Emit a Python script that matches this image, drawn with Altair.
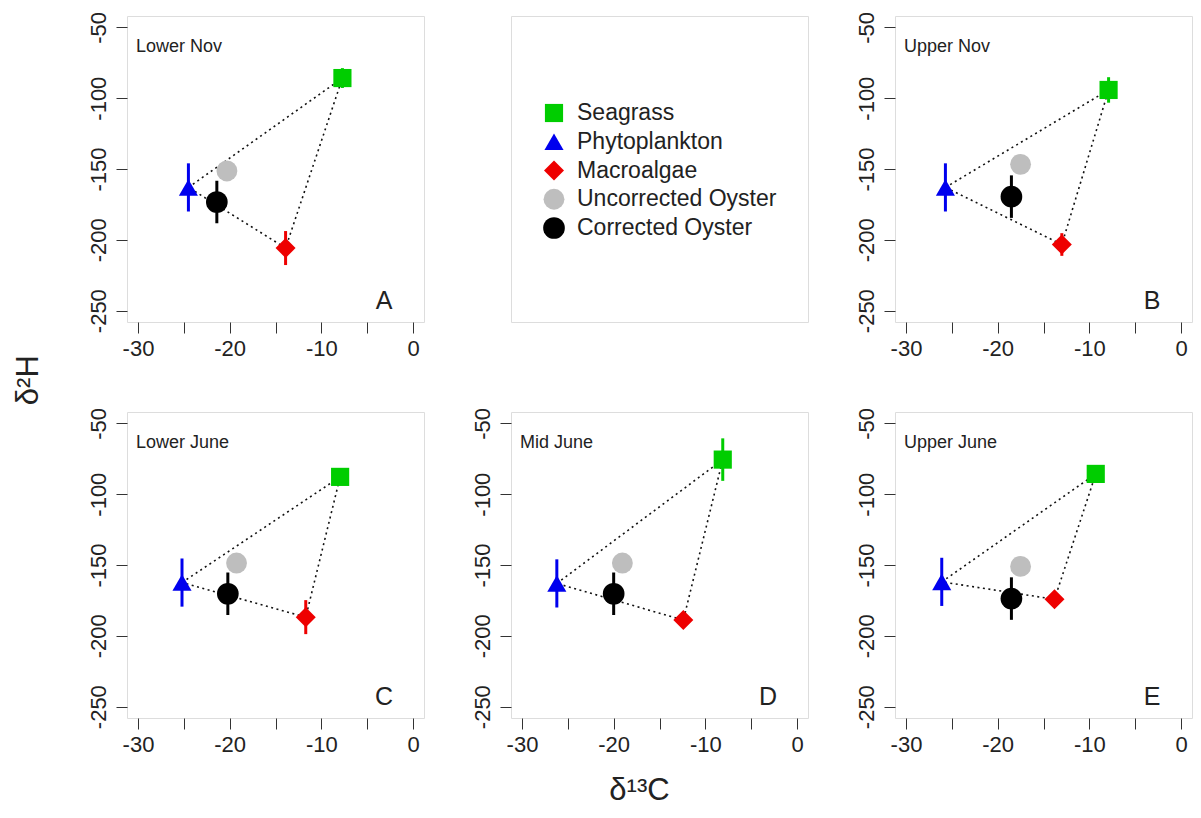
import altair as alt
import pandas as pd

# ---------------- data ----------------
panel_names = ["Lower Nov", "Upper Nov", "Lower June", "Mid June", "Upper June"]
panel_letters = ["A", "B", "C", "D", "E"]
sources = ["Seagrass", "Phytoplankton", "Macroalgae", "Uncorrected Oyster", "Corrected Oyster"]

seagrass_c = [-7.7, -7.9, -7.95, -8.1, -9.3]
seagrass_h = [-85.8, -94.2, -87.8, -75.6, -85.7]
seagrass_sd = [7, 9, 3, 15, 3]

phyto_c = [-24.5, -25.7, -25.2, -26.2, -26.1]
phyto_h = [-163.0, -163.0, -162.4, -163.0, -161.9]
phyto_sd = [17, 17, 17, 17, 17]

macro_c = [-13.9, -13.0, -11.7, -12.4, -13.8]
macro_h = [-205.8, -203.3, -186.8, -188.9, -174.2]
macro_sd = [12, 8, 12, 4, 4]

uncorr_c = [-20.3, -17.5, -19.25, -19.05, -17.5]
uncorr_h = [-151.4, -146.7, -148.6, -148.6, -151.0]
uncorr_sd = [0, 0, 0, 0, 0]

corr_c = [-21.4, -18.5, -20.2, -20.0, -18.5]
corr_h = [-173.3, -169.5, -170.3, -170.3, -173.7]
corr_sd = [15, 15, 15, 15, 15]

x_ticks = [-30, -25, -20, -15, -10, -5, 0]
y_ticks = [-250, -200, -150, -100, -50]
x_domain = [-31.2, 1.2]
y_domain = [-258, -42]

# ---------------- styles ----------------
colors = ["#00CD00", "#0000EE", "#EE0000", "#BEBEBE", "#000000"]
shapes = ["square", "triangle-up", "diamond", "circle", "circle"]
sizes = [330, 470, 330, 210, 180]
FONT = "Liberation Sans"
W, H = 297, 306
HSPACE, VSPACE = 87, 90

color_enc = alt.Color("source:N", scale=alt.Scale(domain=sources, range=colors), legend=None)
shape_enc = alt.Shape("source:N", scale=alt.Scale(domain=sources, range=shapes), legend=None)
size_enc = alt.Size("source:N", scale=alt.Scale(domain=sources, range=sizes), legend=None)

x_axis = alt.Axis(values=x_ticks, labelExpr="datum.value % 10 == 0 ? '' + datum.value : ''",
                  title=None, grid=False, domain=False, tickSize=11, tickColor="#333333",
                  tickWidth=1, labelFontSize=22, labelFont=FONT, labelColor="#222222",
                  labelPadding=5, labelOverlap=False, labelFlush=False)
y_axis = alt.Axis(values=y_ticks, labelExpr="'' + datum.value", title=None, grid=False,
                  domain=False, tickSize=11, tickColor="#333333", tickWidth=1,
                  labelFontSize=22, labelFont=FONT, labelColor="#222222", labelAngle=270,
                  labelAlign="center", labelBaseline="bottom", labelPadding=6,
                  labelOverlap=False, labelFlush=False)


def xe(field):
    return alt.X(field, type="quantitative", scale=alt.Scale(domain=x_domain, nice=False, zero=False), axis=x_axis)


def ye(field):
    return alt.Y(field, type="quantitative", scale=alt.Scale(domain=y_domain, nice=False, zero=False), axis=y_axis)


def panel(i):
    pts = pd.DataFrame({
        "source": sources,
        "c": [seagrass_c[i], phyto_c[i], macro_c[i], uncorr_c[i], corr_c[i]],
        "h": [seagrass_h[i], phyto_h[i], macro_h[i], uncorr_h[i], corr_h[i]],
        "sd": [seagrass_sd[i], phyto_sd[i], macro_sd[i], uncorr_sd[i], corr_sd[i]],
    })
    pts["lo"] = pts["h"] - pts["sd"]
    pts["hi"] = pts["h"] + pts["sd"]
    bars = pts[pts["sd"] > 0]
    poly = pd.DataFrame({
        "k": [0, 1, 2, 3],
        "c": [phyto_c[i], seagrass_c[i], macro_c[i], phyto_c[i]],
        "h": [phyto_h[i], seagrass_h[i], macro_h[i], phyto_h[i]],
    })
    lines = alt.Chart(poly).mark_line(color="#111111", strokeDash=[2, 3.5], strokeWidth=1.6).encode(
        x=xe("c"), y=ye("h"), order="k:Q")
    rules = alt.Chart(bars).mark_rule(strokeWidth=3).encode(
        x=xe("c"), y=ye("lo"), y2="hi:Q", color=color_enc)
    points = alt.Chart(pts).mark_point(filled=True, opacity=1).encode(
        x=xe("c"), y=ye("h"), color=color_enc, shape=shape_enc, size=size_enc)
    name = alt.Chart(pd.DataFrame({"t": [panel_names[i]]})).mark_text(
        align="left", baseline="alphabetic", fontSize=18, font=FONT, color="#222222").encode(
        x=alt.value(9), y=alt.value(36), text="t:N")
    letter = alt.Chart(pd.DataFrame({"t": [panel_letters[i]]})).mark_text(
        align="center", baseline="alphabetic", fontSize=25, font=FONT, color="#222222").encode(
        x=alt.value(W - 40), y=alt.value(H - 13), text="t:N")
    return alt.layer(lines, rules, points, name, letter).properties(width=W, height=H)


def legend_panel():
    leg = pd.DataFrame({"source": sources})
    ly = alt.Y("source:N", sort=sources, axis=None,
               scale=alt.Scale(type="point", range=[97, 212], padding=0))
    sym = alt.Chart(leg).mark_point(filled=True, opacity=1).encode(
        x=alt.value(43), y=ly, color=color_enc, shape=shape_enc, size=size_enc)
    txt = alt.Chart(leg).mark_text(align="left", baseline="middle", fontSize=23, font=FONT,
                                   color="#222222").encode(
        x=alt.value(66), y=ly, text="source:N")
    return alt.layer(sym, txt).properties(width=W, height=H)


inner = alt.concat(panel(0), legend_panel(), panel(1), panel(2), panel(3), panel(4),
                   columns=3, spacing={"row": VSPACE, "column": HSPACE},
                   bounds="flush").properties(
    title=alt.TitleParams("δ¹³C", orient="bottom", fontSize=31, font=FONT, fontWeight="normal",
                          color="#222222", offset=20, anchor="middle"))
chart = alt.hconcat(inner).properties(
    title=alt.TitleParams("δ²H", orient="left", fontSize=31, font=FONT, fontWeight="normal",
                          color="#222222", offset=42, anchor="middle", dx=28),
    padding={"left": 4, "top": 2, "right": 0, "bottom": 0},
).configure_view(stroke="#333333", strokeWidth=1.3).configure(background="white")

chart.save("out.html", embed_options={"renderer": "svg", "actions": False})
